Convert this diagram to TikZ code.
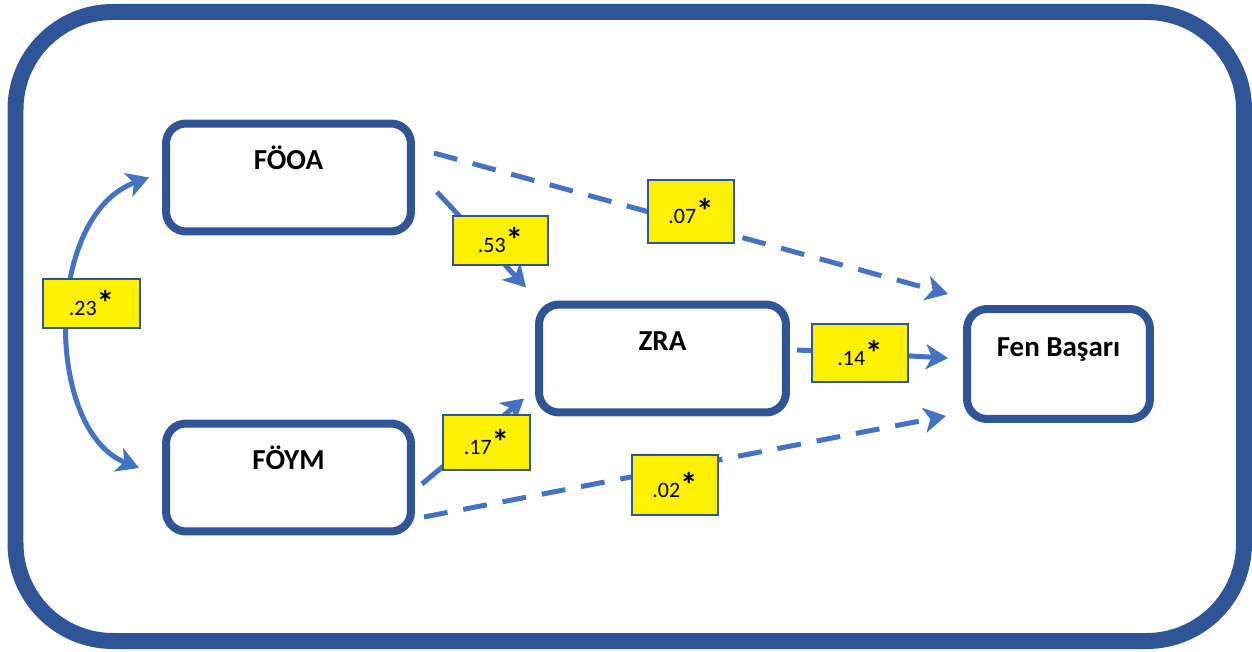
\documentclass[tikz,border=0pt]{standalone}
\usepackage{fontspec}
\setmainfont{Carlito}
\usetikzlibrary{arrows.meta}
\definecolor{framebl}{HTML}{2F5597}
\definecolor{arrbl}{HTML}{4472C4}
\newcommand{\coef}[1]{#1{\fontsize{20}{20}\selectfont\bfseries *}}

\begin{document}
\begin{tikzpicture}[x=0.02cm,y=-0.02cm,>={Stealth[length=0.44cm,width=0.5cm,inset=0.12cm]}]
	\def \boxwd{4.9cm}
	\def \boxht{2.16cm}
	\tikzstyle{v-node}=[draw=framebl,line width=0.16cm,rounded corners=0.4cm,fill=white,font=\fontsize{16.5}{18}\selectfont\bfseries,text height=0.37cm,text depth=0.68cm,inner sep=0pt,minimum width=\boxwd,minimum height=\boxht]
	\tikzstyle{c-node}=[draw=framebl,line width=0.03cm,fill=yellow,font=\fontsize{12.5}{14}\selectfont,inner sep=0pt]
	\tikzstyle{path-s}=[draw=arrbl,line width=0.1cm,->]
	\tikzstyle{path-d}=[path-s,dash pattern=on 0.48cm off 0.32cm]
	\useasboundingbox (0,0) rectangle (1252,652);

	% frame
	\draw[framebl,line width=0.32cm,rounded corners=1.95cm] (15.5,12) rectangle (1244,641);

	% variables
	\node[v-node] 	(fooa)	at (288.5,177.5)	{FÖOA};
	\node[v-node] 	(foym)	at (288.5,477.5)	{FÖYM};
	\node[v-node,minimum width=4.94cm] 	(zra)	at (662.5,358.5)	{ZRA};
	\node[v-node,minimum width=3.66cm,minimum height=2.2cm] 	(fen)	at (1058.5,364)	{Fen Başarı};

	% paths
	\draw[path-s,<->] ([xshift=-0.26cm]fooa.west) .. controls (44,215) and (44,430) .. ([xshift=-0.46cm,yshift=0.19cm]foym.west);
	\path
		([xshift=0.44cm,yshift=-0.29cm]fooa.east)	edge[path-s]	([xshift=-0.18cm,yshift=0.26cm]zra.north west)
		([xshift=0.38cm,yshift=0.49cm]fooa.east)	edge[path-d]	([xshift=-0.30cm,yshift=0.22cm]fen.north west)
		%
		([xshift=0.14cm,yshift=0.17cm]zra.east)	edge[path-s]	([xshift=-0.30cm,yshift=0.12cm]fen.west)
		%
		([xshift=0.14cm,yshift=-0.13cm]foym.east)	edge[path-s]	([xshift=-0.22cm,yshift=0.36cm]zra.south west)
		([xshift=0.18cm,yshift=-0.79cm]foym.east)	edge[path-d]	([xshift=-0.34cm,yshift=0.14cm]fen.south west);

	% coefficients
	\node[c-node,minimum width=1.94cm,minimum height=0.98cm] 	(c23)	at (91.5,303.5)	{\coef{.23}};
	\node[c-node,minimum width=1.90cm,minimum height=0.98cm] 	(c53)	at (500.5,240.5)	{\coef{.53}};
	\node[c-node,minimum width=1.72cm,minimum height=1.26cm] 	(c07)	at (691,211.5)	{\coef{.07}};
	\node[c-node,minimum width=1.92cm,minimum height=1.16cm] 	(c14)	at (860,353)	{\coef{.14}};
	\node[c-node,minimum width=1.74cm,minimum height=1.10cm] 	(c17)	at (486.5,442.5)	{\coef{.17}};
	\node[c-node,minimum width=1.72cm,minimum height=1.20cm] 	(c02)	at (675,485)	{\coef{.02}};
\end{tikzpicture}
\end{document}
